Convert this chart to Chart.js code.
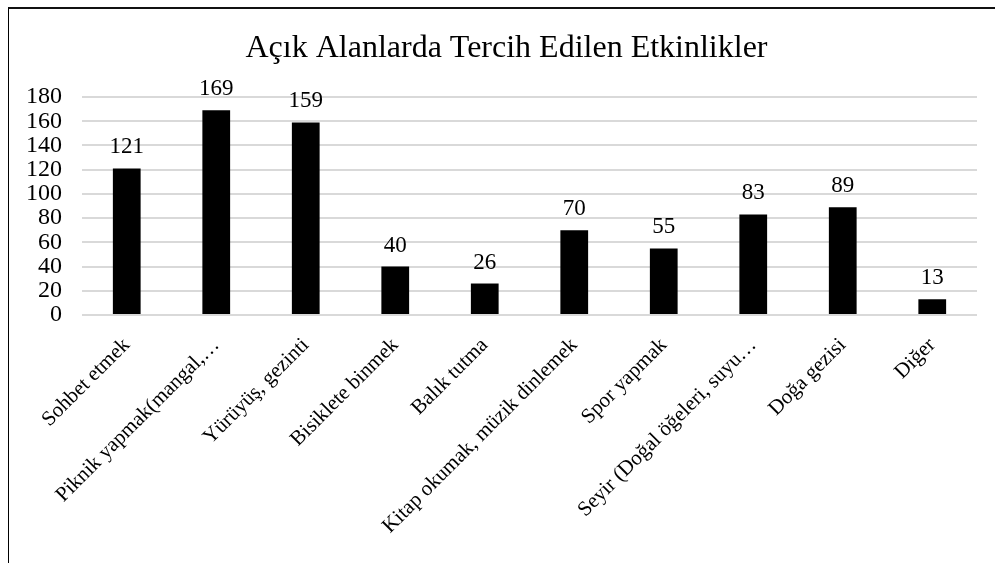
<!DOCTYPE html>
<html>
<head>
<meta charset="utf-8">
<script src="https://cdn.jsdelivr.net/npm/chart.js@4"></script>
<style>
    html, body { margin: 0; padding: 0; background: #fff; }
    #wrap { position: relative; width: 995px; height: 563px; overflow: hidden; }
    #frame {
        position: absolute; left: 8px; top: 7px; width: 1100px; height: 700px;
        border-left: 1px solid #000; border-top: 2px solid #111; pointer-events: none;
    }
</style>
</head>
<body>
<div id="wrap">
    <!-- canvas runs past the right edge, like the cut-off chart frame -->
    <canvas id="chart" width="1013" height="563"></canvas>
    <div id="frame"></div>
</div>
<script>
const categories = [
    'Sohbet etmek',
    'Piknik yapmak(mangal,…',
    'Yürüyüş, gezinti',
    'Bisiklete binmek',
    'Balık tutma',
    'Kitap okumak, müzik dinlemek',
    'Spor yapmak',
    'Seyir (Doğal öğeleri, suyu…',
    'Doğa gezisi',
    'Diğer'
];
const counts = [121, 169, 159, 40, 26, 70, 55, 83, 89, 13];
const yTicks = [0, 20, 40, 60, 80, 100, 120, 140, 160, 180];

const serif = "'Liberation Serif', 'Times New Roman', serif";

// value labels above each bar
const barLabels = {
    id: 'barLabels',
    afterDatasetsDraw(chart) {
        const ctx = chart.ctx;
        const meta = chart.getDatasetMeta(0);
        ctx.save();
        ctx.font = `23px ${serif}`;
        ctx.fillStyle = '#000';
        ctx.textAlign = 'center';
        ctx.textBaseline = 'alphabetic';
        meta.data.forEach((bar, i) => {
            ctx.fillText(String(counts[i]), bar.x, bar.y - 15);
        });
        ctx.restore();
    }
};

const ctx = document.getElementById('chart').getContext('2d');
new Chart(ctx, {
    type: 'bar',
    data: {
        labels: categories,
        datasets: [{
            data: counts,
            backgroundColor: '#000',
            borderWidth: 0,
            barPercentage: 0.31,
            categoryPercentage: 1
        }]
    },
    options: {
        responsive: false,
        animation: false,
        layout: { padding: 0 },
        plugins: {
            legend: { display: false },
            tooltip: { enabled: false },
            title: {
                display: true,
                text: 'Açık Alanlarda Tercih Edilen Etkinlikler',
                color: '#000',
                font: { family: serif, size: 32, weight: 'normal', lineHeight: 1.2 },
                padding: { top: 29, bottom: 29.6 }
            }
        },
        scales: {
            x: {
                grid: { display: false },
                border: { display: false },
                ticks: {
                    color: '#000',
                    font: { family: serif, size: 21 },
                    maxRotation: 45,
                    minRotation: 45,
                    autoSkip: false,
                    padding: 10
                },
                afterFit(scale) { scale.height = 248; }
            },
            y: {
                min: 0,
                max: 180,
                afterBuildTicks(scale) { scale.ticks = yTicks.map(v => ({ value: v })); },
                grid: { color: '#d9d9d9', lineWidth: 2, drawTicks: false },
                border: { display: false },
                ticks: {
                    color: '#000',
                    font: { family: serif, size: 24 },
                    autoSkip: false,
                    padding: 20
                },
                afterFit(scale) { scale.width = 82; }
            },
            // empty right margin so the title centres in the frame
            yRight: {
                position: 'right',
                grid: { display: false },
                border: { display: false },
                ticks: { display: false },
                afterFit(scale) { scale.width = 36; }
            }
        }
    },
    plugins: [barLabels]
});
</script>
</body>
</html>
